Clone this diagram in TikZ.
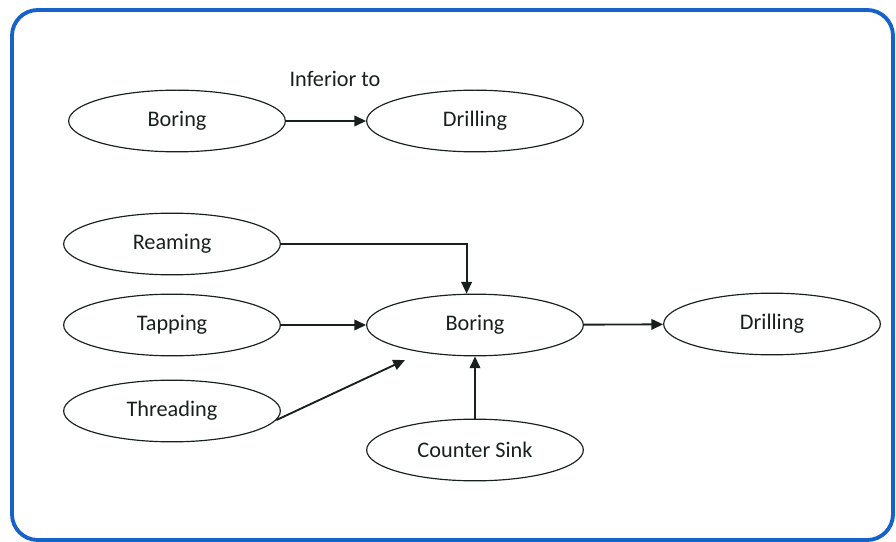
\documentclass[tikz,border=0pt]{standalone}
\usepackage{fontspec}
\setmainfont{Carlito}
\usetikzlibrary{arrows.meta,shapes.geometric}
\definecolor{frameblue}{RGB}{22,98,200}
\definecolor{ink}{RGB}{24,32,30}

\begin{document}
\begin{tikzpicture}[x=0.03cm,y=-0.03cm,
    op/.style={draw=ink,ellipse,line width=1pt,inner sep=0pt,
      minimum width=6.5cm,minimum height=1.85cm,
      font=\fontsize{19}{22}\selectfont,text=ink},
    link/.style={draw=ink,line width=1.6pt,-{Triangle[length=10pt,width=9pt]}}]
    \useasboundingbox (0,0) rectangle (896,542);
    \draw[frameblue,line width=3.3pt,rounded corners=22pt] (12,10) rectangle (893,540);
    %
    \node[op] (bortop) at (177,121) {Boring};
    \node[op] (drtop)  at (475,121) {Drilling};
    \node[font=\fontsize{19}{22}\selectfont,text=ink] (inf) at (335,79) {Inferior to};
    \draw[link] (bortop) -- (drtop);
    %
    \node[op] (ream)   at (172,244) {Reaming};
    \node[op] (tap)    at (172,325) {Tapping};
    \node[op] (thread) at (172,411) {Threading};
    \node[op] (bormid) at (475,325) {Boring};
    \node[op] (drill)  at (772,324) {Drilling};
    \node[op] (csink)  at (475,450) {Counter Sink};
    \coordinate (tip) at (405,360);
    %
    \draw[link] (ream.east) -| (bormid.105);
    \draw[link] (tap) -- (bormid);
    \draw[link] (thread.-5) -- (tip);
    \draw[link] (csink) -- (bormid);
    \draw[link] (bormid) -- (drill);
\end{tikzpicture}
\end{document}
